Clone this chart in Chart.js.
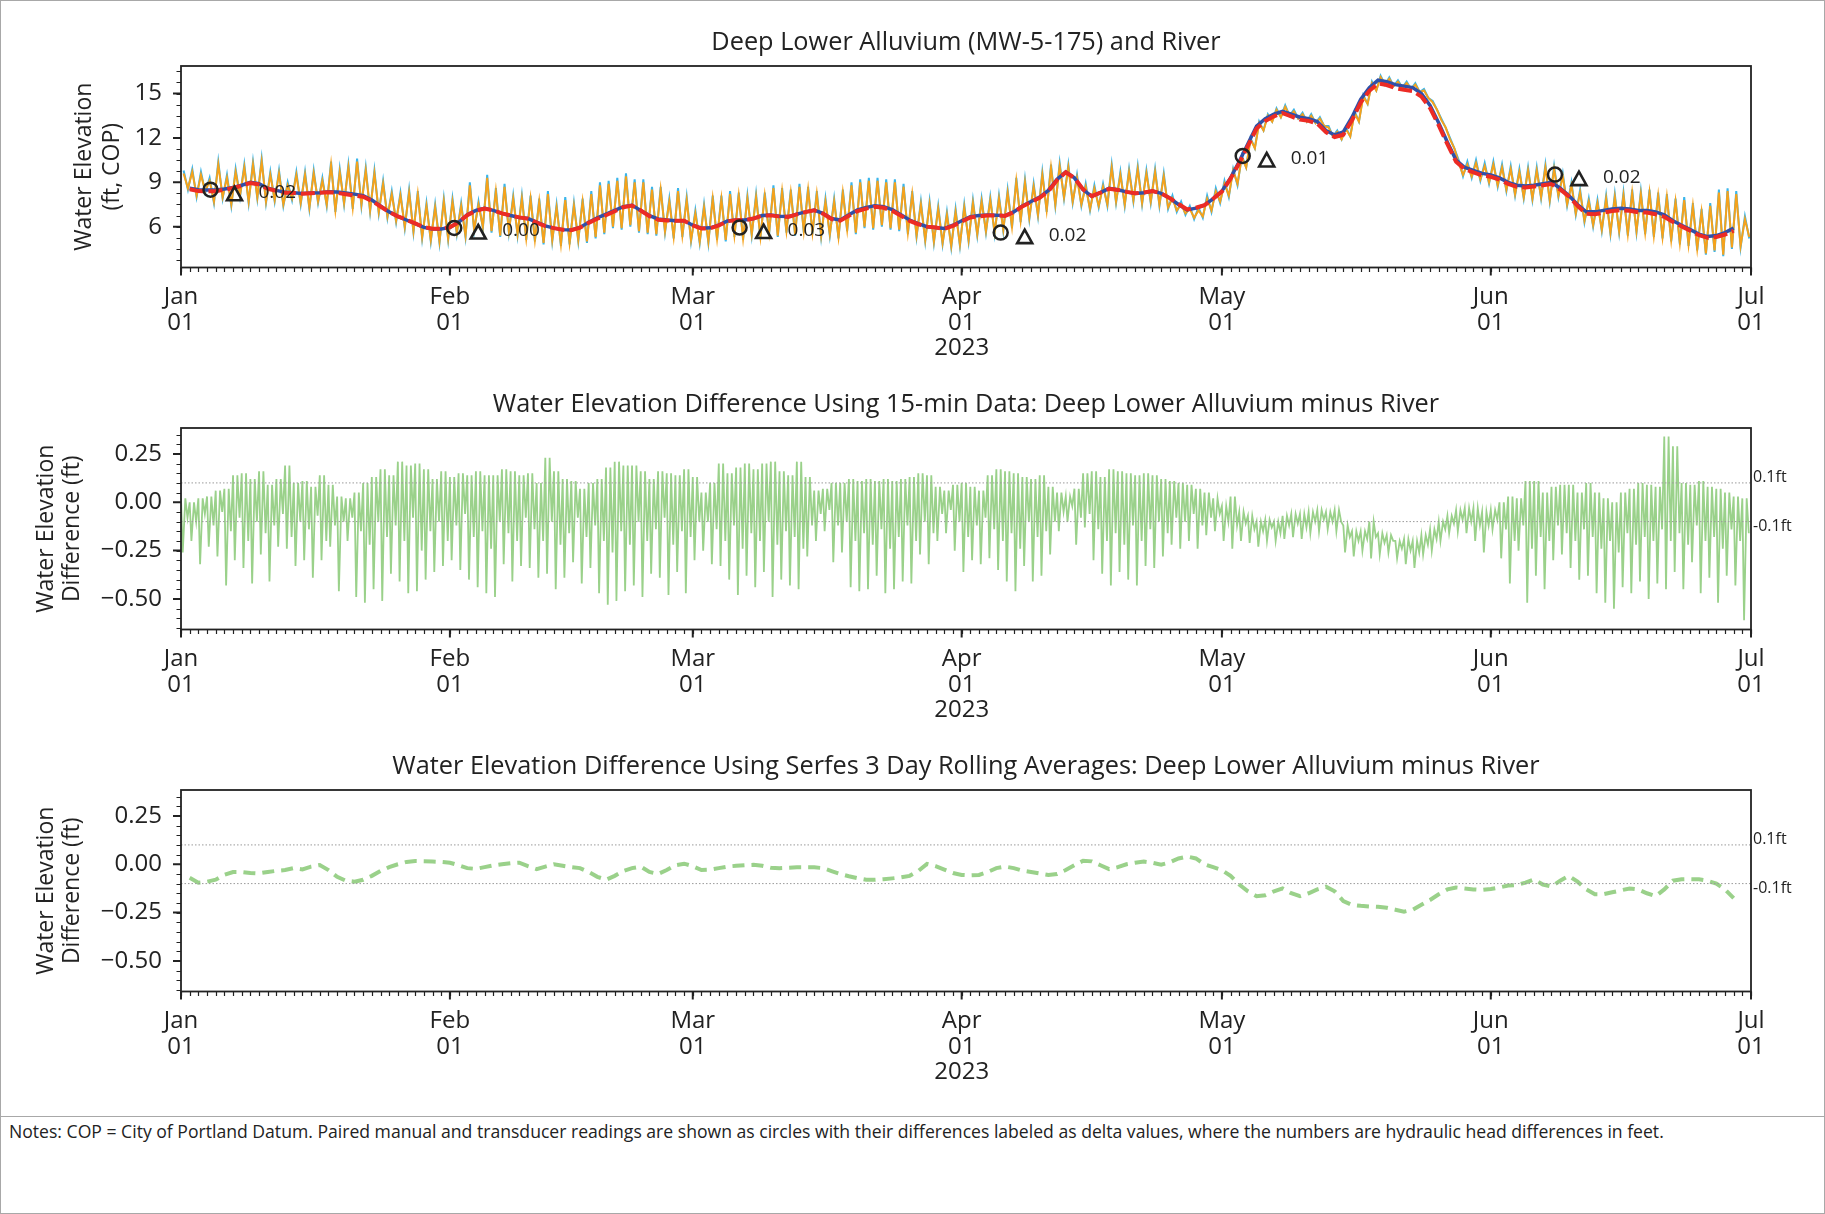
<!DOCTYPE html>
<html>
<head>
<meta charset="utf-8">
<script src="https://cdn.jsdelivr.net/npm/chart.js@4.4.0/dist/chart.umd.min.js"></script>
<style>
  html, body { margin: 0; padding: 0; background: #fff; }
  #page { position: relative; width: 1825px; height: 1214px; overflow: hidden; background: #fff; font-family: "Open Sans", sans-serif; }
  #frame { position: absolute; left: 0; top: 0; width: 1825px; height: 1214px; box-sizing: border-box; border: 1px solid #a8a8a8; }
  #sep { position: absolute; left: 0; top: 1116px; width: 1825px; border-top: 1px solid #a8a8a8; }
  #notes { position: absolute; left: 9px; top: 1118px; font-size: 17.6px; line-height: 26px; color: #222; white-space: nowrap; }
  canvas.panel { position: absolute; left: 0; }
</style>
</head>
<body>
<div id="page">
  <div id="frame"></div>
  <canvas class="panel" id="elevChart" width="1825" height="362" style="top:0px"></canvas>
  <canvas class="panel" id="diffChart" width="1825" height="362" style="top:362px"></canvas>
  <canvas class="panel" id="avgChart" width="1825" height="362" style="top:724px"></canvas>
  <div id="sep"></div>
  <div id="notes">Notes: COP = City of Portland Datum. Paired manual and transducer readings are shown as circles with their differences labeled as delta values, where the numbers are hydraulic head differences in feet.</div>
</div>
<script>
// x axis is days since 2023-01-01
const monthDays = [0, 31, 59, 90, 120, 151, 181];
const monthLabels = [['Jan', '01'], ['Feb', '01'], ['Mar', '01'], ['Apr', '01', '2023'], ['May', '01'], ['Jun', '01'], ['Jul', '01']];

// 15-min river data, daily high / low (ft, COP), day 0..180
const riverHi = [
  9.8, 9.9, 9.7, 9.3, 10.4, 9.5, 9.9, 10.2, 10.4, 10.6,
  9.7, 9.8, 9.0, 9.7, 9.7, 9.8, 9.3, 10.4, 9.9, 10.2,
  10.6, 10.0, 9.8, 9.1, 8.4, 8.3, 8.5, 8.4, 7.6, 7.5,
  7.9, 7.9, 7.6, 9.0, 7.7, 9.5, 8.6, 8.9, 8.1, 8.1,
  8.1, 7.9, 8.4, 7.5, 8.0, 7.6, 7.9, 8.4, 9.0, 9.1,
  9.3, 9.6, 9.2, 9.2, 8.7, 8.7, 7.9, 8.6, 8.0, 7.1,
  7.5, 8.1, 8.1, 8.4, 8.3, 8.1, 8.2, 8.3, 8.8, 8.6,
  8.5, 8.9, 8.7, 8.4, 7.9, 7.9, 8.5, 9.0, 9.2, 9.3,
  9.3, 9.2, 9.2, 8.9, 8.4, 7.7, 7.7, 7.4, 7.0, 7.2,
  7.5, 7.8, 7.9, 8.0, 8.1, 8.5, 9.3, 9.2, 8.9, 9.7,
  10.2, 10.3, 10.2, 9.5, 8.9, 8.8, 8.9, 10.2, 9.7, 9.9,
  10.1, 9.8, 9.9, 9.6, 8.1, 7.7, 7.4, 7.3, 8.1, 8.6,
  9.1, 9.9, 10.8, 12.0, 13.1, 13.6, 14.0, 14.2, 13.9, 13.7,
  13.6, 13.4, 12.8, 12.5, 12.7, 13.8, 14.9, 15.8, 16.2, 16.1,
  15.9, 15.8, 15.7, 15.3, 14.5, 13.3, 12.0, 10.5, 10.4, 10.5,
  10.3, 10.4, 10.2, 10.1, 9.9, 10.0, 10.0, 10.2, 10.1, 9.6,
  9.0, 8.5, 7.9, 7.8, 8.1, 8.2, 8.3, 8.5, 8.4, 8.5,
  8.3, 8.2, 7.9, 8.0, 7.6, 7.2, 7.6, 8.5, 8.6, 8.4, 6.7
];
const riverLo = [
  8.5, 8.0, 8.3, 7.6, 7.9, 7.4, 8.0, 7.6, 7.9, 7.6,
  7.7, 7.4, 7.8, 7.5, 7.2, 7.6, 7.4, 7.0, 7.5, 7.2,
  7.4, 7.0, 6.9, 6.6, 6.3, 5.9, 5.6, 5.2, 5.0, 4.9,
  5.1, 5.5, 5.3, 5.7, 5.9, 5.6, 5.3, 5.6, 5.4, 5.1,
  5.0, 4.8, 5.0, 4.7, 4.8, 5.0, 4.9, 5.2, 5.5, 5.9,
  5.8, 6.0, 5.6, 5.5, 5.4, 5.6, 5.2, 5.3, 5.0, 4.9,
  4.9, 5.1, 5.0, 5.3, 5.1, 5.4, 5.2, 5.5, 5.3, 5.6,
  5.4, 5.6, 5.5, 5.3, 5.4, 5.2, 5.7, 5.5, 5.9, 5.8,
  6.0, 5.8, 5.7, 5.5, 5.3, 5.0, 4.9, 4.8, 4.6, 4.7,
  5.0, 5.4, 5.6, 5.5, 5.7, 5.9, 6.3, 6.5, 6.7, 7.0,
  7.4, 7.9, 7.6, 7.4, 7.1, 7.3, 7.4, 7.6, 7.4, 7.7,
  7.5, 7.6, 7.4, 7.2, 7.0, 6.8, 6.5, 6.6, 7.0, 7.6,
  8.0, 8.8, 10.0, 11.3, 12.5, 13.1, 13.4, 13.5, 13.3, 13.1,
  13.0, 12.8, 12.1, 11.9, 12.1, 13.1, 14.3, 15.2, 15.6, 15.5,
  15.4, 15.3, 15.1, 14.7, 13.9, 12.7, 11.3, 9.4, 9.3, 9.1,
  8.9, 8.7, 8.4, 8.1, 7.9, 7.8, 7.9, 7.7, 8.0, 7.4,
  6.8, 6.3, 6.0, 5.7, 5.5, 5.6, 5.4, 5.6, 5.5, 5.3,
  5.2, 5.0, 4.8, 4.7, 4.4, 4.1, 4.3, 4.0, 4.5, 4.6, 5.2
];

// 15-min well (MW-5-175) data, daily high / low
const wellHi = [
  9.6, 9.7, 9.5, 9.1, 10.2, 9.3, 9.7, 10.0, 10.2, 10.4,
  9.5, 9.6, 8.8, 9.5, 9.5, 9.6, 9.1, 10.2, 9.7, 10.0,
  10.4, 9.8, 9.6, 8.9, 8.2, 8.1, 8.3, 8.2, 7.4, 7.3,
  7.7, 7.7, 7.4, 8.8, 7.5, 9.3, 8.4, 8.7, 7.9, 7.9,
  7.9, 7.7, 8.2, 7.3, 7.8, 7.4, 7.7, 8.2, 8.8, 8.9,
  9.1, 9.4, 9.0, 9.0, 8.5, 8.5, 7.7, 8.4, 7.8, 6.9,
  7.3, 7.9, 7.9, 8.2, 8.1, 7.9, 8.0, 8.1, 8.6, 8.4,
  8.3, 8.7, 8.5, 8.2, 7.7, 7.7, 8.3, 8.8, 9.0, 9.1,
  9.1, 9.0, 9.0, 8.7, 8.2, 7.5, 7.5, 7.2, 6.8, 7.0,
  7.3, 7.6, 7.7, 7.8, 7.9, 8.3, 9.1, 9.0, 8.7, 9.5,
  10.0, 10.1, 10.0, 9.3, 8.7, 8.6, 8.7, 10.0, 9.5, 9.7,
  9.9, 9.6, 9.7, 9.4, 7.9, 7.5, 7.2, 7.1, 7.9, 8.4,
  8.9, 9.8, 10.7, 11.9, 13.0, 13.5, 13.9, 14.1, 13.8, 13.6,
  13.5, 13.3, 12.7, 12.4, 12.6, 13.7, 14.8, 15.7, 16.1, 16.0,
  15.8, 15.7, 15.6, 15.2, 14.4, 13.2, 11.9, 10.3, 10.2, 10.3,
  10.1, 10.2, 10.0, 9.9, 9.7, 9.8, 9.8, 10.0, 9.9, 9.4,
  8.8, 8.3, 7.7, 7.6, 7.9, 8.0, 8.1, 8.3, 8.2, 8.3,
  8.1, 8.0, 7.7, 7.8, 7.4, 7.0, 7.4, 8.3, 8.4, 8.2, 6.5
];
const wellLo = [
  8.6, 8.1, 8.4, 7.7, 8.0, 7.5, 8.1, 7.7, 8.0, 7.7,
  7.8, 7.5, 7.9, 7.6, 7.3, 7.7, 7.5, 7.1, 7.6, 7.3,
  7.5, 7.1, 7.0, 6.7, 6.4, 6.0, 5.7, 5.3, 5.1, 5.0,
  5.2, 5.6, 5.4, 5.8, 6.0, 5.7, 5.4, 5.7, 5.5, 5.2,
  5.1, 4.9, 5.1, 4.8, 4.9, 5.1, 5.0, 5.3, 5.6, 6.0,
  5.9, 6.1, 5.7, 5.6, 5.5, 5.7, 5.3, 5.4, 5.1, 5.0,
  5.0, 5.2, 5.1, 5.4, 5.2, 5.5, 5.3, 5.6, 5.4, 5.7,
  5.5, 5.7, 5.6, 5.4, 5.5, 5.3, 5.8, 5.6, 6.0, 5.9,
  6.1, 5.9, 5.8, 5.6, 5.4, 5.1, 5.0, 4.9, 4.7, 4.8,
  5.1, 5.5, 5.7, 5.6, 5.8, 6.0, 6.4, 6.6, 6.8, 7.1,
  7.5, 8.0, 7.7, 7.5, 7.2, 7.4, 7.5, 7.7, 7.5, 7.8,
  7.6, 7.7, 7.5, 7.3, 7.1, 6.9, 6.6, 6.7, 7.1, 7.7,
  8.1, 8.9, 10.0, 11.3, 12.5, 13.1, 13.4, 13.5, 13.3, 13.1,
  13.0, 12.8, 12.1, 11.9, 12.1, 13.1, 14.3, 15.2, 15.6, 15.5,
  15.4, 15.3, 15.1, 14.7, 13.9, 12.7, 11.3, 9.5, 9.4, 9.2,
  9.0, 8.8, 8.5, 8.2, 8.0, 7.9, 8.0, 7.8, 8.1, 7.5,
  6.9, 6.4, 6.1, 5.8, 5.6, 5.7, 5.5, 5.7, 5.6, 5.4,
  5.3, 5.1, 4.9, 4.8, 4.5, 4.2, 4.4, 4.1, 4.6, 4.7, 5.3
];

// river 3 day rolling average, one value per day
const riverAvg = [
  null, 8.6, 8.5, 8.48, 8.48, 8.55, 8.65, 8.8, 9.0, 8.9,
  8.6, 8.45, 8.32, 8.3, 8.25, 8.27, 8.3, 8.36, 8.35, 8.28,
  8.2, 8.1, 7.8, 7.4, 7.0, 6.7, 6.45, 6.2, 5.95, 5.85,
  5.85, 5.95, 6.3, 6.8, 7.1, 7.24, 7.1, 6.9, 6.75, 6.62,
  6.55, 6.3, 6.05, 5.9, 5.8, 5.78, 5.95, 6.3, 6.6, 6.85,
  7.1, 7.35, 7.45, 7.1, 6.75, 6.52, 6.45, 6.4, 6.4, 6.1,
  5.9, 5.92, 6.1, 6.38, 6.45, 6.45, 6.55, 6.75, 6.78, 6.7,
  6.68, 6.85, 7.0, 7.12, 6.9, 6.55, 6.45, 6.8, 7.13, 7.3,
  7.42, 7.35, 7.15, 6.8, 6.45, 6.2, 6.0, 5.95, 5.88, 6.1,
  6.4, 6.68, 6.75, 6.79, 6.78, 6.74, 7.0, 7.4, 7.7, 8.0,
  8.45, 9.2, 9.7, 9.3, 8.5, 8.05, 8.3, 8.59, 8.5, 8.35,
  8.25, 8.3, 8.4, 8.25, 7.92, 7.5, 7.13, 7.25, 7.46, 7.9,
  8.4, 9.3, 10.4, 11.6, 12.8, 13.3, 13.6, 13.8, 13.6, 13.4,
  13.3, 13.1, 12.5, 12.2, 12.4, 13.4, 14.6, 15.4, 15.9, 15.8,
  15.6, 15.5, 15.4, 15.0, 14.2, 13.0, 11.7, 10.5, 10.0, 9.8,
  9.6, 9.5, 9.3, 9.0, 8.8, 8.75, 8.8, 8.9, 9.0, 8.6,
  8.1, 7.5, 7.0, 7.0, 7.1, 7.2, 7.25, 7.2, 7.1, 7.1,
  7.0, 6.8, 6.4, 6.1, 5.8, 5.5, 5.33, 5.4, 5.6, 5.9, null
];

// Serfes 3 day rolling average difference, well minus river (ft)
const avgDiff = [
  null, -0.07, -0.095, -0.09, -0.08, -0.055, -0.04, -0.04, -0.045, -0.047,
  -0.04, -0.034, -0.03, -0.02, -0.027, -0.012, -0.004, -0.03, -0.065, -0.085,
  -0.09, -0.08, -0.06, -0.035, -0.015, 0.0, 0.012, 0.017, 0.016, 0.014,
  0.012, 0.008, -0.005, -0.02, -0.024, -0.015, -0.006, 0.0, 0.005, 0.008,
  -0.01, -0.025, -0.012, 0.0, -0.008, -0.015, -0.02, -0.04, -0.065, -0.08,
  -0.06, -0.035, -0.02, -0.012, -0.04, -0.05, -0.03, -0.005, 0.003, -0.01,
  -0.03, -0.028, -0.02, -0.012, -0.008, -0.005, -0.003, -0.008, -0.018, -0.02,
  -0.018, -0.016, -0.016, -0.016, -0.02, -0.035, -0.05, -0.062, -0.072, -0.08,
  -0.08, -0.077, -0.073, -0.068, -0.06, -0.035, 0.002, -0.01, -0.028, -0.045,
  -0.055, -0.057, -0.055, -0.04, -0.02, -0.012, -0.02, -0.033, -0.04, -0.048,
  -0.055, -0.05, -0.03, -0.005, 0.018, 0.015, -0.005, -0.025, -0.015, 0.0,
  0.008, 0.014, 0.008, -0.002, 0.01, 0.03, 0.04, 0.03, 0.0, -0.015,
  -0.03, -0.06, -0.105, -0.14, -0.165, -0.16, -0.14, -0.125, -0.15, -0.165,
  -0.15, -0.13, -0.116, -0.14, -0.19, -0.21, -0.215, -0.218, -0.22, -0.225,
  -0.235, -0.245, -0.235, -0.21, -0.185, -0.155, -0.13, -0.12, -0.125, -0.13,
  -0.133, -0.128, -0.12, -0.11, -0.107, -0.095, -0.078, -0.105, -0.115, -0.085,
  -0.06, -0.09, -0.13, -0.155, -0.155, -0.145, -0.135, -0.125, -0.13, -0.15,
  -0.165, -0.13, -0.085, -0.078, -0.077, -0.078, -0.085, -0.1, -0.13, -0.175, null
];

// 15-min difference, well minus river (ft): daily high, main low and minor low
const diffHi = [
  0.02, 0.0, 0.02, 0.03, 0.06, 0.07, 0.14, 0.15, 0.12, 0.16,
  0.09, 0.12, 0.19, 0.1, 0.11, 0.08, 0.14, 0.09, 0.03, 0.02,
  0.05, 0.1, 0.13, 0.17, 0.14, 0.21, 0.19, 0.2, 0.17, 0.12,
  0.16, 0.13, 0.15, 0.14, 0.16, 0.14, 0.14, 0.17, 0.16, 0.14,
  0.15, 0.1, 0.23, 0.16, 0.12, 0.11, 0.07, 0.1, 0.12, 0.18,
  0.21, 0.19, 0.19, 0.16, 0.12, 0.16, 0.15, 0.14, 0.17, 0.13,
  0.05, 0.1, 0.2, 0.15, 0.18, 0.2, 0.17, 0.2, 0.21, 0.16,
  0.14, 0.21, 0.13, 0.06, 0.07, 0.1, 0.1, 0.12, 0.11, 0.12,
  0.11, 0.12, 0.11, 0.12, 0.13, 0.15, 0.14, 0.08, 0.06, 0.09,
  0.1, 0.08, 0.06, 0.14, 0.17, 0.16, 0.15, 0.13, 0.12, 0.14,
  0.08, 0.05, 0.03, 0.07, 0.15, 0.16, 0.13, 0.17, 0.16, 0.15,
  0.14, 0.15, 0.14, 0.12, 0.11, 0.1, 0.09, 0.07, 0.05, 0.02,
  -0.02, 0.03, -0.05, -0.07, -0.1, -0.09, -0.1, -0.07, -0.06, -0.06,
  -0.05, -0.04, -0.05, -0.04, -0.12, -0.15, -0.15, -0.1, -0.16, -0.17,
  -0.2, -0.19, -0.2, -0.17, -0.14, -0.1, -0.07, -0.04, -0.03, -0.03,
  -0.05, -0.04, 0.0, 0.03, 0.02, 0.11, 0.11, 0.05, 0.08, 0.09,
  0.09, 0.05, 0.1, 0.05, 0.02, 0.0, 0.05, 0.07, 0.1, 0.09,
  0.08, 0.34, 0.29, 0.1, 0.09, 0.11, 0.08, 0.07, 0.05, 0.03, 0.02
];
const diffLo = [
  -0.26, -0.2, -0.32, -0.23, -0.28, -0.43, -0.3, -0.34, -0.42, -0.27,
  -0.41, -0.23, -0.24, -0.33, -0.3, -0.39, -0.3, -0.23, -0.46, -0.2,
  -0.49, -0.52, -0.45, -0.51, -0.37, -0.41, -0.47, -0.46, -0.4, -0.36,
  -0.33, -0.3, -0.35, -0.4, -0.44, -0.47, -0.49, -0.32, -0.41, -0.33,
  -0.34, -0.39, -0.37, -0.45, -0.39, -0.31, -0.42, -0.34, -0.47, -0.53,
  -0.51, -0.46, -0.43, -0.49, -0.37, -0.39, -0.48, -0.36, -0.47, -0.3,
  -0.25, -0.32, -0.33, -0.4, -0.48, -0.38, -0.44, -0.36, -0.49, -0.4,
  -0.43, -0.45, -0.28, -0.2, -0.15, -0.31, -0.26, -0.44, -0.46, -0.45,
  -0.38, -0.47, -0.45, -0.41, -0.42, -0.27, -0.32, -0.2, -0.16, -0.25,
  -0.36, -0.3, -0.32, -0.29, -0.35, -0.41, -0.46, -0.33, -0.41, -0.38,
  -0.27, -0.15, -0.1, -0.22, -0.13, -0.3, -0.37, -0.43, -0.36, -0.4,
  -0.43, -0.33, -0.34, -0.28, -0.22, -0.24, -0.2, -0.24, -0.17, -0.15,
  -0.2, -0.24, -0.2, -0.21, -0.23, -0.2, -0.2, -0.19, -0.18, -0.19,
  -0.16, -0.15, -0.14, -0.15, -0.26, -0.28, -0.25, -0.29, -0.27, -0.26,
  -0.29, -0.32, -0.34, -0.27, -0.25, -0.2, -0.16, -0.15, -0.16, -0.2,
  -0.26, -0.14, -0.29, -0.42, -0.25, -0.52, -0.38, -0.45, -0.3, -0.27,
  -0.34, -0.4, -0.38, -0.47, -0.52, -0.55, -0.44, -0.47, -0.41, -0.5,
  -0.42, -0.45, -0.36, -0.45, -0.31, -0.47, -0.39, -0.52, -0.38, -0.43, -0.61
];
const diffLo2 = [
  -0.08, -0.1, -0.06, -0.12, -0.05, -0.15, -0.08, -0.2, -0.1, -0.16,
  -0.12, -0.06, -0.18, -0.1, -0.14, -0.07, -0.2, -0.12, -0.1, -0.08,
  -0.15, -0.22, -0.1, -0.18, -0.12, -0.2, -0.08, -0.25, -0.15, -0.1,
  -0.2, -0.12, -0.06, -0.18, -0.15, -0.24, -0.1, -0.16, -0.2, -0.08,
  -0.14, -0.2, -0.1, -0.22, -0.16, -0.08, -0.18, -0.12, -0.2, -0.26,
  -0.15, -0.22, -0.1, -0.2, -0.14, -0.08, -0.22, -0.15, -0.18, -0.1,
  -0.1, -0.14, -0.2, -0.12, -0.24, -0.16, -0.2, -0.1, -0.22, -0.15,
  -0.18, -0.24, -0.12, -0.06, -0.04, -0.12, -0.1, -0.2, -0.16, -0.22,
  -0.14, -0.24, -0.18, -0.12, -0.2, -0.1, -0.16, -0.06, -0.04, -0.1,
  -0.18, -0.12, -0.08, -0.14, -0.2, -0.16, -0.24, -0.1, -0.18, -0.15,
  -0.1, -0.05, -0.02, -0.08, -0.06, -0.14, -0.2, -0.16, -0.22, -0.12,
  -0.2, -0.14, -0.1, -0.16, -0.08, -0.1, -0.06, -0.12, -0.08, -0.06,
  -0.1, -0.12, -0.11, -0.14, -0.15, -0.13, -0.16, -0.12, -0.11, -0.13,
  -0.1, -0.09, -0.1, -0.1, -0.18, -0.2, -0.19, -0.18, -0.21, -0.2,
  -0.24, -0.25, -0.26, -0.22, -0.19, -0.14, -0.11, -0.09, -0.1, -0.12,
  -0.12, -0.09, -0.14, -0.2, -0.12, -0.24, -0.18, -0.2, -0.12, -0.16,
  -0.2, -0.14, -0.18, -0.24, -0.2, -0.26, -0.16, -0.22, -0.18, -0.2,
  -0.14, -0.2, -0.16, -0.22, -0.12, -0.2, -0.18, -0.24, -0.14, -0.2, -0.16
];

// paired manual readings
const manualDay = [3.4, 31.5, 64.4, 94.5, 122.4, 158.4];
const manualElev = [8.5, 5.91, 5.94, 5.6, 10.78, 9.52];
const manualDelta = ['0.02', '0.00', '0.03', '0.02', '0.01', '0.02'];

const ink = '#222';
const fontFamily = '"Open Sans", sans-serif';
Chart.defaults.font.family = fontFamily;
Chart.defaults.color = ink;

function tideSeries(hi, lo) {
  const pts = [];
  hi.forEach((h, d) => {
    pts.push({x: d + 0.3, y: h});
    pts.push({x: d + 0.8, y: lo[d]});
  });
  return pts;
}

// two tides a day: high, main low, high, minor low
function mixedTideSeries(hi, lo, lo2) {
  const pts = [];
  hi.forEach((h, d) => {
    pts.push({x: d, y: h});
    pts.push({x: d + 0.2, y: lo[d]});
    pts.push({x: d + 0.5, y: h});
    pts.push({x: d + 0.75, y: lo2[d]});
  });
  return pts;
}

function daySeries(values) {
  return values.map((v, d) => ({x: d, y: v}));
}

function flatLine(y) {
  return [{x: 0, y}, {x: 181, y}];
}

const wellAvg = riverAvg.map((v, d) => (v === null || avgDiff[d] === null) ? null : v + avgDiff[d]);

const panelDecor = {
  id: 'panelDecor',
  afterDraw(chart) {
    const o = chart.options.plugins.panelDecor;
    const {ctx, chartArea: a, scales: {x, y}} = chart;
    ctx.save();
    ctx.strokeStyle = ink;
    ctx.lineCap = 'butt';
    // x ticks: daily minor, monthly major
    ctx.lineWidth = 1.2;
    ctx.beginPath();
    for (let d = 0; d <= 181; d++) {
      const px = Math.round(x.getPixelForValue(d)) + 0.5;
      ctx.moveTo(px, a.bottom);
      ctx.lineTo(px, a.bottom + 4.5);
    }
    ctx.stroke();
    ctx.lineWidth = 2;
    ctx.beginPath();
    monthDays.forEach(d => {
      const px = x.getPixelForValue(d);
      ctx.moveTo(px, a.bottom);
      ctx.lineTo(px, a.bottom + 8);
    });
    ctx.stroke();
    // y ticks
    ctx.lineWidth = 1.2;
    ctx.beginPath();
    for (let v = o.minorStart; v <= y.max + 1e-9; v += o.minorStep) {
      const py = Math.round(y.getPixelForValue(v)) + 0.5;
      ctx.moveTo(a.left, py);
      ctx.lineTo(a.left - 4.5, py);
    }
    ctx.stroke();
    ctx.lineWidth = 2;
    ctx.beginPath();
    o.majors.forEach(v => {
      const py = y.getPixelForValue(v);
      ctx.moveTo(a.left, py);
      ctx.lineTo(a.left - 8, py);
    });
    ctx.stroke();
    // frame
    ctx.lineWidth = 1.8;
    ctx.strokeRect(a.left, a.top, a.right - a.left, a.bottom - a.top);

    ctx.fillStyle = ink;
    // title
    ctx.font = '25.3px ' + fontFamily;
    ctx.textAlign = 'center';
    ctx.textBaseline = 'middle';
    ctx.fillText(o.title, (a.left + a.right) / 2, a.top - 23);
    // y axis title
    ctx.font = '23px ' + fontFamily;
    const cy = (a.top + a.bottom) / 2;
    o.yTitle.forEach((line, i) => {
      ctx.save();
      ctx.translate(o.yTitleX[i], cy);
      ctx.rotate(-Math.PI / 2);
      ctx.fillText(line, 0, 0);
      ctx.restore();
    });
    // threshold labels on the right
    ctx.font = '16px ' + fontFamily;
    ctx.textAlign = 'left';
    (o.rightLabels || []).forEach(r => {
      ctx.fillText(r.text, a.right + 2, y.getPixelForValue(r.value) + r.dy);
    });
    // delta labels beside manual readings
    if (o.deltas) {
      manualDay.forEach((d, i) => {
        const px = x.getPixelForValue(d);
        const py = y.getPixelForValue(manualElev[i]);
        const tx = px + 24, ty = py + 4;
        ctx.lineWidth = 2.6;
        ctx.lineJoin = 'miter';
        ctx.beginPath();
        ctx.moveTo(tx, ty - 7);
        ctx.lineTo(tx + 7.5, ty + 6.5);
        ctx.lineTo(tx - 7.5, ty + 6.5);
        ctx.closePath();
        ctx.stroke();
        ctx.font = '19px ' + fontFamily;
        ctx.fillText(manualDelta[i], px + 48, py + 3);
      });
    }
    ctx.restore();
  }
};

function panel({elementName, title, yTitle, yTitleX, yMin, yMax, majors, minorStart, minorStep, yLabel, datasets, rightLabels, deltas}) {
  const element = document.getElementById(elementName);
  return new Chart(element, {
    type: 'line',
    data: {datasets},
    plugins: [panelDecor],
    options: {
      responsive: false,
      animation: false,
      parsing: false,
      normalized: true,
      layout: {padding: {left: 0, right: 74, top: 66, bottom: 0}},
      elements: {point: {radius: 0}, line: {tension: 0}},
      scales: {
        x: {
          type: 'linear',
          min: 0,
          max: 181,
          grid: {display: false, drawTicks: false},
          border: {display: false},
          afterBuildTicks: s => { s.ticks = monthDays.map(v => ({value: v})); },
          afterFit: s => { s.height = 94.5; },
          ticks: {
            autoSkip: false,
            maxRotation: 0,
            padding: 17,
            font: {size: 24, lineHeight: '25.5px'},
            color: ink,
            callback: v => monthLabels[monthDays.indexOf(v)]
          }
        },
        y: {
          type: 'linear',
          min: yMin,
          max: yMax,
          grid: {display: false, drawTicks: false},
          border: {display: false},
          afterBuildTicks: s => { s.ticks = majors.map(v => ({value: v})); },
          afterFit: s => { s.width = 181; },
          ticks: {
            padding: 19,
            font: {size: 24},
            color: ink,
            callback: yLabel
          }
        }
      },
      plugins: {
        legend: {display: false},
        tooltip: {enabled: false},
        panelDecor: {title, yTitle, yTitleX, majors, minorStart, minorStep, rightLabels, deltas}
      }
    }
  });
}

const diffLabel = v => (v < 0 ? '\u2212' : '') + Math.abs(v).toFixed(2);
const thresholdLabels = [
  {text: '0.1ft', value: 0.1, dy: -5},
  {text: '-0.1ft', value: -0.1, dy: 5}
];
const dotted = y => ({
  data: flatLine(y),
  borderColor: '#9a9a9a',
  borderWidth: 1,
  borderDash: [1.5, 2],
  order: 0
});

panel({
  elementName: 'elevChart',
  title: 'Deep Lower Alluvium (MW-5-175) and River',
  yTitle: ['Water Elevation', '(ft, COP)'],
  yTitleX: [84, 112],
  yMin: 3.24,
  yMax: 16.86,
  majors: [6, 9, 12, 15],
  minorStart: 3.75,
  minorStep: 0.75,
  yLabel: v => String(v),
  deltas: true,
  datasets: [
    {data: manualDay.map((d, i) => ({x: d, y: manualElev[i]})), showLine: false,
      pointRadius: 7, pointBorderWidth: 2.5, pointBorderColor: ink,
      pointBackgroundColor: 'rgba(0,0,0,0)', pointStyle: 'circle', order: 0},
    {data: daySeries(wellAvg), borderColor: '#ec2b25', borderWidth: 4, borderDash: [14, 5], order: 1},
    {data: daySeries(riverAvg), borderColor: '#2f50a8', borderWidth: 3.5, order: 2},
    {data: tideSeries(wellHi, wellLo), borderColor: '#f5a21b', borderWidth: 2, order: 3},
    {data: tideSeries(riverHi, riverLo), borderColor: '#3ab5ea', borderWidth: 2, order: 4}
  ]
});

panel({
  elementName: 'diffChart',
  title: 'Water Elevation Difference Using 15-min Data: Deep Lower Alluvium minus River',
  yTitle: ['Water Elevation', 'Difference (ft)'],
  yTitleX: [46, 72],
  yMin: -0.658,
  yMax: 0.384,
  majors: [-0.5, -0.25, 0, 0.25],
  minorStart: -0.65,
  minorStep: 0.05,
  yLabel: diffLabel,
  rightLabels: thresholdLabels,
  datasets: [
    dotted(0.1),
    dotted(-0.1),
    {data: mixedTideSeries(diffHi, diffLo, diffLo2), borderColor: '#9ad18a', borderWidth: 1.8, order: 1}
  ]
});

panel({
  elementName: 'avgChart',
  title: 'Water Elevation Difference Using Serfes 3 Day Rolling Averages: Deep Lower Alluvium minus River',
  yTitle: ['Water Elevation', 'Difference (ft)'],
  yTitleX: [46, 72],
  yMin: -0.658,
  yMax: 0.384,
  majors: [-0.5, -0.25, 0, 0.25],
  minorStart: -0.65,
  minorStep: 0.05,
  yLabel: diffLabel,
  rightLabels: thresholdLabels,
  datasets: [
    dotted(0.1),
    dotted(-0.1),
    {data: daySeries(avgDiff), borderColor: '#9ad18a', borderWidth: 4, borderDash: [12, 7], order: 1}
  ]
});
</script>
</body>
</html>
